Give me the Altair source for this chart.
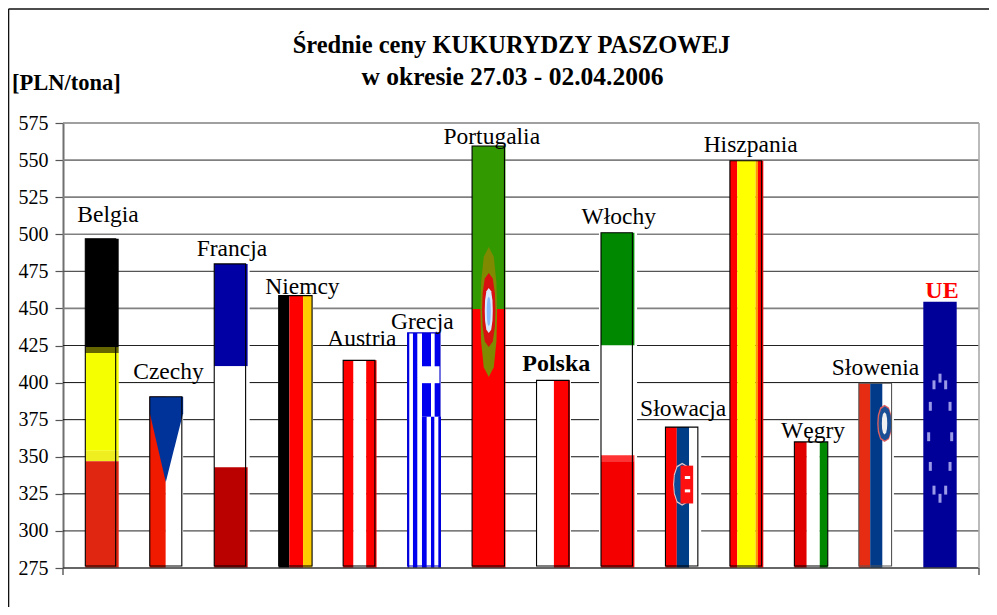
import altair as alt
import pandas as pd

# ---------- data ----------
countries = ["Belgia", "Czechy", "Francja", "Niemcy", "Austria", "Grecja", "Portugalia",
             "Polska", "Włochy", "Słowacja", "Hiszpania", "Węgry", "Słowenia", "UE"]
prices = [497, 390.5, 480, 458.6, 415, 433.5, 559.5, 401.5, 501, 370, 549.6, 360, 399.6, 454.5]
ticks = list(range(275, 600, 25))
FONT = "Liberation Serif"

# horizontal flag bands: (colour, upper value, lower value)
h_bands = {
    "Belgia": [("#000000", 497, 424), ("#666600", 424, 420), ("#f6ff00", 420, 354),
               ("#eeee20", 354, 347), ("#e02510", 347, 275)],
    "Francja": [("#0000a5", 480, 411), ("#ffffff", 411, 343), ("#bb0000", 343, 275)],
    "Portugalia": [("#339900", 559.5, 449.6), ("#ff0000", 449.6, 275)],
    "Włochy": [("#008800", 501, 425), ("#ffffff", 425, 351), ("#ff3333", 351, 347), ("#f50000", 347, 275)],
    "UE": [("#000099", 454.5, 275)],
    "Czechy": [("#003399", 390.5, 379)],
}
# vertical flag stripes: (colour, from fraction, to fraction)
v_stripes = {
    "Niemcy": [("#000000", 0, .32), ("#ff0000", .32, .73), ("#ffcc00", .73, 1)],
    "Austria": [("#ff0000", 0, .31), ("#ffffff", .31, .69), ("#ff0000", .69, 1)],
    "Polska": [("#ffffff", 0, .52), ("#ff0000", .52, 1)],
    "Słowacja": [("#ff0000", 0, .34), ("#003f87", .34, .71), ("#ffffff", .71, 1)],
    "Hiszpania": [("#ff0000", 0, .22), ("#ffff00", .22, .77), ("#ff9900", .77, .84), ("#ff0000", .84, 1)],
    "Węgry": [("#e00000", 0, .37), ("#ffffff", .37, .76), ("#008800", .76, 1)],
    "Słowenia": [("#e62c12", 0, .34), ("#003a88", .34, .71), ("#ffffff", .71, 1)],
    "Czechy": [("#f01a00", 0, .48), ("#ffffff", .48, 1)],
    "Grecja": [("#ffffff", 0, 1), ("#0000ee", 0, .05), ("#0000ee", .16, .29)],
}
# free patches: (country, colour, f0, f1, upper, lower)
patches_under = [
    ("Grecja", "#0000ee", .43, .70, 433.5, 377), ("Grecja", "#0000ee", .81, .97, 433.5, 377),
    ("Grecja", "#ffffff", .43, 1, 411, 399.6), ("Grecja", "#0000ee", .43, .57, 377, 275),
    ("Grecja", "#0000ee", .70, .80, 377, 275), ("Grecja", "#0000ee", .92, 1, 377, 275),
]
patches_over = [
    ("Słowacja", "#ff1010", .45, .83, 344, 318.5), ("Słowacja", "#ffffff", .58, .74, 337, 335),
    ("Słowacja", "#ffffff", .58, .74, 328, 326),
    ("UE", "#9a9ae6", .455, .545, 406, 400), ("UE", "#9a9ae6", .275, .365, 401.5, 395.5),
    ("UE", "#9a9ae6", .625, .715, 401.5, 395.5), ("UE", "#9a9ae6", .165, .255, 387, 381),
    ("UE", "#9a9ae6", .755, .845, 387, 381), ("UE", "#9a9ae6", .115, .205, 366.5, 360.5),
    ("UE", "#9a9ae6", .805, .895, 366.5, 360.5), ("UE", "#9a9ae6", .165, .255, 346.5, 340.5),
    ("UE", "#9a9ae6", .755, .845, 346.5, 340.5), ("UE", "#9a9ae6", .275, .365, 330.5, 324.5),
    ("UE", "#9a9ae6", .625, .715, 330.5, 324.5), ("UE", "#9a9ae6", .455, .545, 325, 319),
]
# emblems: (country, colour, centre fraction, half width, upper, lower)
emblems = [
    ("Portugalia", "#7f8a00", .5, .25, 491.4, 403.8), ("Portugalia", "#d81010", .5, .20, 473.9, 424),
    ("Portugalia", "#d8e8ff", .5, .12, 463.8, 433.4), ("Portugalia", "#88bbff", .5, .06, 458, 438),
    ("Słowacja", "#e8c8c8", .5, .27, 346, 317), ("Słowacja", "#0d4a96", .5, .24, 345, 318),
    ("Słowenia", "#e06060", .77, .22, 385, 360), ("Słowenia", "#1a4f96", .78, .19, 384, 361),
    ("Słowenia", "#f0f0f0", .77, .08, 380, 365),
]
# Czech triangle: (fraction, upper, lower)
cz_fracs, cz_upper, cz_lower = [0, .48, 1], [379.5, 379.5, 379.5], [379.5, 333, 379.5]
# outline of the picture: right-hand fraction and colour
outline_right = [.91, .96, .94, 1, .95, .97, .97, .97, .94, .97, .95, 1, .98]
outline_col = ["#000000"] * 5 + ["#0000cc"] + ["#000000"] * 6 + ["#555555"]
# white margins next to the pictures: (country, left fraction, right fraction)
halos = [("Francja", 0, .06), ("Niemcy", 0, .03), ("Włochy", .06, .08), ("Słowacja", 0, .07),
         ("Słowenia", 0, .05), ("Polska", 0, .03)]
label_dx = [6, 2, 1, 7, 2, -2, 3, 3, 1, 1, 4, 2, 0, 2]
label_dy = [-17, -18, -8, -2, -14, -4, -2, -9, -9, -11, -9, -4, -8, -4]
lens_prof_x = [-1, -.92, -.6, 0, .6, .92, 1]
lens_prof_y = [0, .45, .85, 1, .85, .45, 0]

grid_vals = [575, 550, 525, 500, 475, 450, 425, 400, 375, 350, 325, 300]
grid_cols = ["#808080", "#808080", "#808080", "#808080", "#555555", "#808080",
             "#222222", "#111111", "#111111", "#111111", "#111111", "#222222"]
grid_wid = [1.6, 1.6, 1.6, 1.6, 1.2, 1.6, 1, 1, 1, 1, 1, 1]

# ---------- scales ----------
W_BAR = 0.518
idx = {c: i for i, c in enumerate(countries)}
price = dict(zip(countries, prices))
def fx(c, f):
    return idx[c] + (f - .5) * W_BAR

xs = alt.Scale(domain=[-0.605, 13.605], nice=False, zero=False)
ys = alt.Scale(domain=[275, 575], nice=False, zero=False)
X = alt.X("x0:Q", scale=xs, axis=None)
AXIS = alt.Axis(
    values=ticks, title=None, grid=False, labelFont=FONT, labelFontSize=20, labelColor="#000000",
    labelPadding=7, tickSize=8, tickColor="#555555", tickWidth=1.2, domainColor="#707070",
    domainWidth=2)
Y = alt.Y("y0:Q", scale=ys, axis=AXIS)
COL = alt.Color("c:N", scale=None)

rows, over, halo_rows = [], [], []
for c, ll, rr in halos:
    halo_rows.append(dict(x0=fx(c, -ll), x1=fx(c, 1 + rr), y0=price[c], y1=275, c="#ffffff"))
for c, bands in h_bands.items():
    if c == "Czechy":
        continue
    for col, a, b in bands:
        rows.append(dict(x0=fx(c, 0), x1=fx(c, 1), y0=a, y1=b, c=col))
for c, st in v_stripes.items():
    for col, f0, f1 in st:
        rows.append(dict(x0=fx(c, f0), x1=fx(c, f1), y0=price[c], y1=275, c=col))
for col, a, b in h_bands["Czechy"]:
    rows.append(dict(x0=fx("Czechy", 0), x1=fx("Czechy", 1), y0=a, y1=b, c=col))
for c, col, f0, f1, a, b in patches_under:
    rows.append(dict(x0=fx(c, f0), x1=fx(c, f1), y0=a, y1=b, c=col))
for c, col, f0, f1, a, b in patches_over:
    over.append(dict(x0=fx(c, f0), x1=fx(c, f1), y0=a, y1=b, c=col))

def rects(r, **kw):
    return alt.Chart(pd.DataFrame(r)).mark_rect(**kw).encode(x=X, x2="x1:Q", y=Y, y2="y1:Q", color=COL)

layers = []

# grid
grid_df = pd.DataFrame({"y0": grid_vals, "c": grid_cols, "w": grid_wid})
layers.append(alt.Chart(grid_df).mark_rule().encode(
    y=Y, color=COL, strokeWidth=alt.StrokeWidth("w:Q", scale=None)))
layers.append(rects(halo_rows))
layers.append(rects(rows))

# Czech triangle
cz = pd.DataFrame({"x0": [fx("Czechy", f) for f in cz_fracs], "y0": cz_upper, "y1": cz_lower})
layers.append(alt.Chart(cz).mark_area(color="#003399").encode(x=X, y=Y, y2="y1:Q"))

# emblems
for c, col, cf, hw, a, b in emblems:
    mid, half = (a + b) / 2, (a - b) / 2
    e = pd.DataFrame({
        "x0": [fx(c, cf + px * hw) for px in lens_prof_x],
        "y0": [mid + py * half for py in lens_prof_y],
        "y1": [mid - py * half for py in lens_prof_y]})
    layers.append(alt.Chart(e).mark_area(color=col).encode(x=X, y=Y, y2="y1:Q"))
layers.append(rects(over))

# picture outlines
out = pd.DataFrame({
    "x0": [fx(c, 0) for c in countries[:13]],
    "x1": [fx(c, r) for c, r in zip(countries[:13], outline_right)],
    "y0": prices[:13], "y1": [276.3] * 13, "c": outline_col})
layers.append(alt.Chart(out).mark_rect(fillOpacity=0, strokeWidth=1.1).encode(
    x=X, x2="x1:Q", y=Y, y2="y1:Q", stroke=alt.Stroke("c:N", scale=None)))

# baseline, right edge and the two low ticks
layers.append(alt.Chart(pd.DataFrame({"y0": [275]})).mark_rule(color="#404040", strokeWidth=1.8, opacity=.8).encode(y=Y))
layers.append(alt.Chart(pd.DataFrame({"x0": [13.605]})).mark_rule(color="#aaaaaa", strokeWidth=1.6).encode(x=X))
layers.append(alt.Chart(pd.DataFrame({"x0": [-0.605, 13.605]})).mark_rule(color="#555555", strokeWidth=1.4).encode(
    x=X, y=alt.value(445), y2=alt.value(452)))

# country labels
for i, c in enumerate(countries):
    bold = c in ("Polska", "UE")
    lab = pd.DataFrame({"x0": [i], "y0": [prices[i]], "t": [c]})
    layers.append(alt.Chart(lab).mark_text(
        font=FONT, fontSize=24 if bold else 23.5, baseline="alphabetic", align="center",
        fontWeight="bold" if bold else "normal", color="#ff0000" if c == "UE" else "#000000",
        dx=label_dx[i], dy=label_dy[i]).encode(x=X, y=Y, text="t:N"))

# frame
layers.append(alt.Chart(pd.DataFrame({"a": [0]})).mark_rule(color="#111111", strokeWidth=1.6).encode(
    x=alt.value(-54.5), x2=alt.value(926), y=alt.value(-114)))
layers.append(alt.Chart(pd.DataFrame({"a": [0]})).mark_rule(color="#111111", strokeWidth=1.6).encode(
    x=alt.value(-54.5), y=alt.value(-114), y2=alt.value(484)))

# titles
def txt(s, px, py, size, align="center"):
    return alt.Chart(pd.DataFrame({"t": [s]})).mark_text(
        font=FONT, fontSize=size, fontWeight="bold", align=align, baseline="alphabetic", color="#000000"
    ).encode(x=alt.value(px), y=alt.value(py), text="t:N")

layers.append(txt("Średnie ceny KUKURYDZY PASZOWEJ", 448.5, -70, 24.5))
layers.append(txt("w okresie 27.03 - 02.04.2006", 449.5, -38, 25.5))
layers.append(txt("[PLN/tona]", -51, -33, 22.5, "left"))

chart = alt.layer(*layers).resolve_scale(color="independent", stroke="independent").properties(
    width=916, height=445,
    autosize=alt.AutoSizeParams(type="none"),
    padding={"left": 55, "top": 115, "right": 10, "bottom": 39},
    background="#ffffff",
).configure_view(stroke=None)

chart.save("out.html", embed_options={"renderer": "svg", "actions": False})
